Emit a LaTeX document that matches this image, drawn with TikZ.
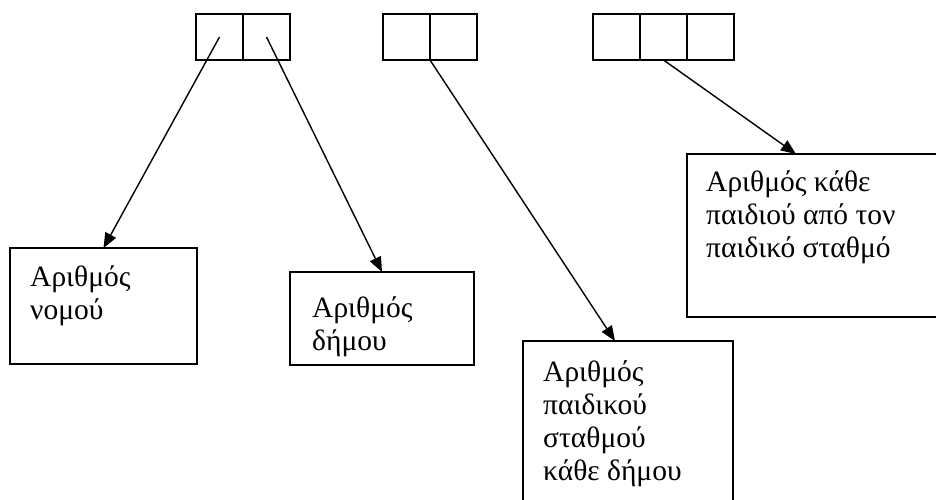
\documentclass[tikz,border=0pt]{standalone}
\usepackage{fontspec}
\setmainfont{Liberation Serif}
\usetikzlibrary{arrows.meta,calc}
\begin{document}
\begin{tikzpicture}[x=1pt,y=-1pt,
  cell/.style={draw,line width=1.8pt,minimum width=47pt,minimum height=46pt,inner sep=0pt,outer sep=0pt,anchor=north west},
  box/.style={draw,line width=1.6pt,inner sep=0pt,outer sep=0pt,anchor=north west},
  lbl/.style={anchor=north west,align=left,inner sep=0pt,font=\fontsize{29.5}{33}\selectfont},
  arr/.style={line width=1.4pt,-{Triangle[length=15pt,width=12pt]}}]
\useasboundingbox (0,0) rectangle (936,499);
% top cells
\node[cell] (c11) at (196,14) {};
\node[cell] (c12) at (243,14) {};
\node[cell] (c21) at (383,14) {};
\node[cell] (c22) at (430,14) {};
\node[cell] (c31) at (593,14) {};
\node[cell] (c32) at (640,14) {};
\node[cell] (c33) at (687,14) {};
% boxes
\node[box,minimum width=187pt,minimum height=116pt] (b1) at (10,248) {};
\node[box,minimum width=184pt,minimum height=93pt] (b2) at (290,272) {};
\node[box,minimum width=210pt,minimum height=190pt] (b3) at (523,341) {};
\node[box,minimum width=270pt,minimum height=163pt] (b4) at (687,154) {};
% texts
\node[lbl] (t1) at (30,265.5) {Αριθμός\\νομού};
\node[lbl] (t2) at (312,296.5) {Αριθμός\\δήμου};
\node[lbl] (t3) at (543,360.5) {Αριθμός\\παιδικού\\σταθμού\\κάθε δήμου};
\node[lbl] (t4) at (706,170.5) {Αριθμός κάθε\\παιδιού από τον\\παιδικό σταθμό};
% arrows
\coordinate (e2) at ($(b2.north west)+(92,0)$);
\coordinate (e3) at ($(b3.north west)+(92,0)$);
\coordinate (e4) at ($(b4.north west)+(109,0)$);
\draw[arr] (c11.center) -- (b1.north);
\draw[arr] (c12.center) -- (e2);
\draw[arr] (c21.south east) -- (e3);
\draw[arr] (c32.south) -- (e4);
\end{tikzpicture}
\end{document}
